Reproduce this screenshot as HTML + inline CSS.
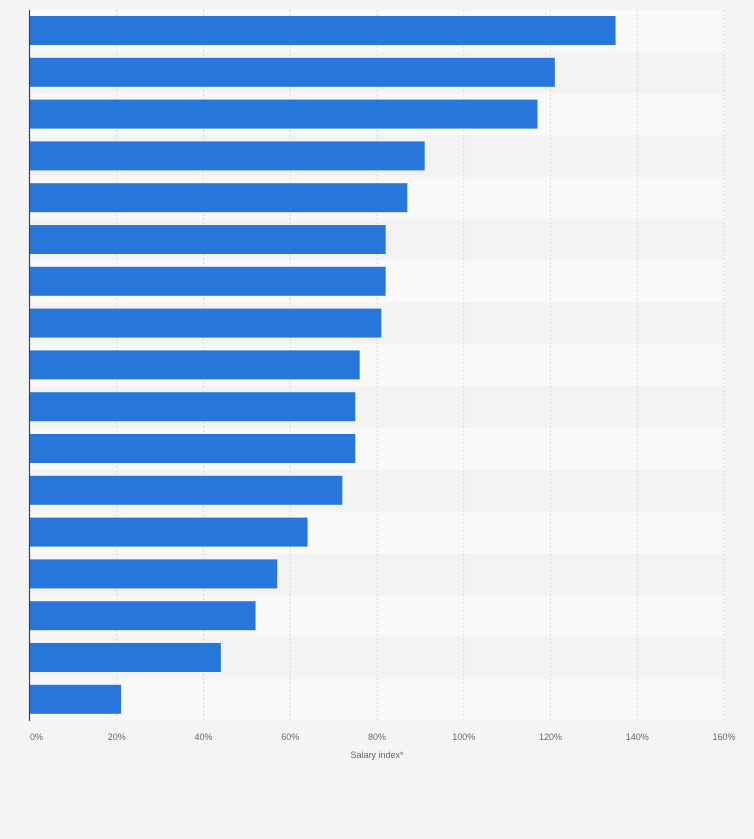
<!DOCTYPE html>
<html><head><meta charset="utf-8"><style>
body{margin:0;background:#f4f4f4;font-family:"Liberation Sans",sans-serif}
svg{display:block}
</style></head><body>
<svg width="754" height="839" id="chart">
<rect x="0" y="0" width="754" height="839" fill="#f4f4f4"/>
<g id="stripes"></g><g id="grid"></g><g id="bars"></g><g id="ticks"></g>
<line x1="29.5" y1="10" x2="29.5" y2="721" stroke="#444" stroke-width="1.2"/>
<text x="377" y="758" font-size="9" fill="#666" text-anchor="middle">Salary index*</text>
</svg>
<script>
const categories=["c1","c2","c3","c4","c5","c6","c7","c8","c9","c10","c11","c12","c13","c14","c15","c16","c17"];
const values=[135,121,117,91,87,82,82,81,76,75,75,72,64,57,52,44,21];
const tickValues=[0,20,40,60,80,100,120,140,160];
const tickLabels=["0%","20%","40%","60%","80%","100%","120%","140%","160%"];
const NS="http://www.w3.org/2000/svg";
const x0=30,x1=724,plotTop=10,pitch=41.8;
const xs=v=>x0+(x1-x0)*v/160;
function mk(t,a,p){const e=document.createElementNS(NS,t);for(const k in a)e.setAttribute(k,a[k]);document.getElementById(p).appendChild(e);return e;}
categories.forEach((c,i)=>{
 const s=mk('rect',{x:x0,y:plotTop+i*pitch,width:x1-x0+1,height:pitch,fill:i%2?'#f3f3f3':'#f9f9f9'},'stripes');
 
 
});
tickValues.forEach((v,i)=>{
 if(v>0){const g=mk('line',{x1:xs(v),x2:xs(v),y1:plotTop,y2:721,stroke:'#d8d8d8','stroke-dasharray':'2,2'},'grid');
 
 }
 const t=mk('text',{x:v===0?x0:xs(v),y:740,'font-size':9,fill:'#666','text-anchor':v===0?'start':'middle'},'ticks');
 t.textContent=tickLabels[i];
 
 
});
values.forEach((v,i)=>{
 const b=mk('rect',{x:x0,y:plotTop+i*pitch+6,width:xs(v)-x0,height:29,fill:'#2776dc'},'bars');
 
 
});
</script>
</body></html>
